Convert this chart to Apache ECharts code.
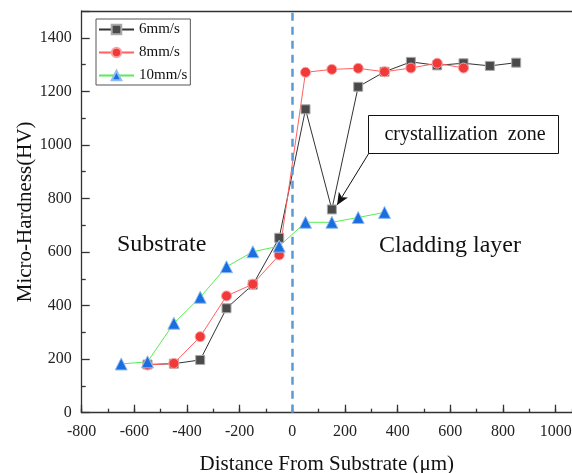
<!DOCTYPE html>
<html><head><meta charset="utf-8">
<script src="https://cdn.jsdelivr.net/npm/echarts@6/dist/echarts.min.js"></script>
<style>html,body{margin:0;padding:0;background:#fff}#c{width:572px;height:473px}</style>
</head><body><div id="c"></div>
<script>
const seriesNames = ['6mm/s', '8mm/s', '10mm/s'];
const dist6 = [-550, -450, -350, -250, -150, -50, 50, 150, 250, 350, 450, 550, 650, 750, 850];
const hv6   = [180, 183, 197, 390, 478, 653, 1133, 759, 1217, 1273, 1310, 1297, 1305, 1295, 1307];
const dist8 = [-550, -450, -350, -250, -150, -50, 50, 150, 250, 350, 450, 550, 650];
const hv8   = [178, 184, 284, 436, 480, 589, 1271, 1282, 1286, 1273, 1287, 1305, 1287];
const dist10 = [-650, -550, -450, -350, -250, -150, -50, 50, 150, 250, 350];
const hv10   = [182, 190, 334, 431, 545, 601, 622, 711, 711, 729, 748];
const xTitle = 'Distance From Substrate (\u03bcm)';
const yTitle = 'Micro-Hardness(HV)';
const arrowFrom = [290, 968];
const arrowTo = [170, 776];
const X_MIN = -800, X_MAX = 1062, Y_MIN = 0, Y_MAX = 1500;

const pairs = (xs, ys) => xs.map((x, i) => [x, ys[i]]);
const FONT = 'Liberation Serif';
const AX = '#333';

const chart = echarts.init(document.getElementById('c'), null, {renderer: 'canvas'});
const hiddenAxis = {
  axisLine: {show: false}, axisTick: {show: false}, axisLabel: {show: false},
  splitLine: {show: false}, minorTick: {show: false}
};
chart.setOption({
  animation: false,
  backgroundColor: '#fff',
  grid: {left: 81.7, top: 11, right: 0, bottom: 60.3, show: false, containLabel: false, outerBoundsMode: 'none'},
  legend: {
    orient: 'vertical', left: 96, top: 19,
    data: seriesNames,
    itemWidth: 35, itemHeight: 12, itemGap: 8,
    padding: [3, 3, 2, 2],
    borderColor: '#555', borderWidth: 1,
    textStyle: {fontFamily: FONT, fontSize: 15, color: '#111'}
  },
  xAxis: [
    {
      type: 'value', min: X_MIN, max: X_MAX, interval: 200, position: 'bottom',
      name: xTitle, nameLocation: 'middle', nameGap: 41,
      nameTextStyle: {fontFamily: FONT, fontSize: 21, color: '#111'},
      axisLine: {show: true, onZero: false, lineStyle: {color: AX, width: 1.3}},
      axisTick: {show: true, inside: true, length: 8, lineStyle: {color: AX, width: 1.3}},
      minorTick: {show: false}, splitLine: {show: false},
      axisLabel: {fontFamily: FONT, fontSize: 16, color: '#222', margin: 11, showMaxLabel: false, formatter: v => String(v)}
    },
    Object.assign({}, hiddenAxis, {
      type: 'value', min: X_MIN, max: X_MAX, interval: 100, position: 'bottom',
      axisTick: {show: true, inside: true, length: 4, lineStyle: {color: AX, width: 1.3}}
    }),
    Object.assign({}, hiddenAxis, {
      type: 'value', min: X_MIN, max: X_MAX, position: 'top',
      axisLine: {show: true, onZero: false, lineStyle: {color: AX, width: 1.3}}
    })
  ],
  yAxis: {
    type: 'value', min: Y_MIN, max: Y_MAX, interval: 200,
    name: yTitle, nameLocation: 'middle', nameGap: 46, nameMoveOverlap: false,
    nameTextStyle: {fontFamily: FONT, fontSize: 21, color: '#111'},
    axisLine: {show: true, onZero: false, lineStyle: {color: AX, width: 1.3}},
    axisTick: {show: true, inside: true, length: 8, lineStyle: {color: AX, width: 1.3}},
    minorTick: {show: true, splitNumber: 2, length: 4, lineStyle: {color: AX, width: 1.3}},
    splitLine: {show: false},
    axisLabel: {fontFamily: FONT, fontSize: 16, color: '#222', margin: 10, showMaxLabel: false, formatter: v => String(v)}
  },
  series: [
    {
      name: seriesNames[0], type: 'line', data: pairs(dist6, hv6),
      symbol: 'rect', symbolSize: 9,
      lineStyle: {color: '#333', width: 1},
      itemStyle: {color: '#4a4a4a', borderColor: '#aaa', borderWidth: 1},
      markLine: {
        silent: true, symbol: ['none', 'arrow'], symbolSize: [8, 12],
        label: {show: false},
        lineStyle: {color: '#111', width: 1, type: 'solid'},
        data: [[{coord: arrowFrom}, {coord: arrowTo}]]
      }
    },
    {
      name: seriesNames[1], type: 'line', data: pairs(dist8, hv8),
      symbol: 'circle', symbolSize: 10,
      lineStyle: {color: '#ff6060', width: 1},
      itemStyle: {color: '#f03a3a', borderColor: '#ffa0a0', borderWidth: 1}
    },
    {
      name: seriesNames[2], type: 'line', data: pairs(dist10, hv10),
      symbol: 'triangle', symbolSize: 12,
      lineStyle: {color: '#55ee55', width: 1},
      itemStyle: {color: '#1a6ee0', borderColor: '#90bdf0', borderWidth: 1},
      markLine: {
        silent: true, symbol: 'none', label: {show: false},
        lineStyle: {color: '#5b9bd5', width: 2.5, type: [8, 6]},
        data: [{xAxis: 0}]
      }
    }
  ],
  graphic: [
    {type: 'text', left: 117, top: 233, style: {text: 'Substrate', font: '24px "Liberation Serif"', fill: '#111'}},
    {type: 'text', left: 379, top: 234, style: {text: 'Cladding layer', font: '24px "Liberation Serif"', fill: '#111'}},
    {type: 'rect', shape: {x: 368.5, y: 115.5, width: 190, height: 38}, style: {fill: '#fff', stroke: '#111', lineWidth: 1}, z: 100},
    {type: 'text', x: 465, y: 134.5, z: 101, style: {text: 'crystallization  zone', font: '20px "Liberation Serif"', fill: '#111', align: 'center', verticalAlign: 'middle'}}
  ]
});
</script></body></html>
